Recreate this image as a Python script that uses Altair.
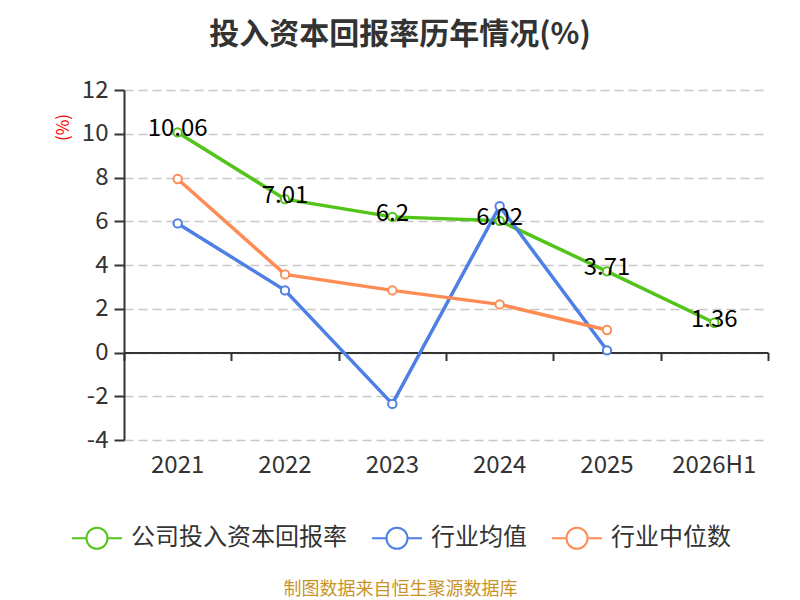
import altair as alt
import pandas as pd

years = ["2021", "2022", "2023", "2024", "2025", "2026H1"]
company = [10.06, 7.01, 6.2, 6.02, 3.71, 1.36]
ind_avg = [5.9, 2.84, -2.35, 6.69, 0.1, None]
ind_median = [7.93, 3.57, 2.84, 2.2, 1.03, None]

series_names = ["公司投入资本回报率", "行业均值", "行业中位数"]
series_colors = ["#52c41a", "#4d7fe5", "#ff8c55"]

rows = []
for name, vals in zip(series_names, [company, ind_avg, ind_median]):
    for y, v in zip(years, vals):
        if v is not None:
            rows.append({"year": y, "value": v, "series": name})
df = pd.DataFrame(rows)

FONT = "Noto Sans CJK SC"

band = alt.Scale(type="band", domain=years, paddingInner=0, paddingOuter=0)

x_lab = alt.X(
    "year:N", sort=years, scale=band,
    axis=alt.Axis(
        orient="bottom", domain=False, ticks=False, grid=False, labelAngle=0,
        labelFontSize=24, labelColor="#333333", labelPadding=13, labelFont=FONT,
        title="制图数据来自恒生聚源数据库", titleColor="#c89428", titleFontSize=18,
        titleFontWeight="normal", titleFont=FONT, titleX=276, titleY=140,
        titleAnchor="middle",
    ),
)
x_zero = alt.X(
    "year:N", sort=years, scale=band,
    axis=alt.Axis(
        orient="bottom", labels=False, grid=False, title=None, domain=True,
        domainColor="#333333", domainWidth=2, ticks=True, tickColor="#333333",
        tickWidth=2, tickSize=8, tickBand="extent", offset=-87.5,
    ),
)
y_enc = alt.Y(
    "value:Q",
    scale=alt.Scale(domain=[-4, 12], nice=False, zero=False),
    axis=alt.Axis(
        values=list(range(-4, 13, 2)), labelExpr="'' + datum.value",
        grid=True, gridDash=[9, 5], gridColor="#c8c8c8",
        gridWidth=1.5, domainColor="#333333", domainWidth=2, tickColor="#333333",
        tickWidth=2, tickSize=10, labelFontSize=24, labelColor="#333333",
        labelPadding=6, labelFont=FONT,
        title="(%)", titleColor="red", titleFontSize=17, titleFontWeight="normal",
        titleFont=FONT, titleX=-52, titleY=37, titleAngle=270, titleAlign="center",
        titleBaseline="bottom",
    ),
)
color_enc = alt.Color(
    "series:N",
    scale=alt.Scale(domain=series_names, range=series_colors),
    legend=alt.Legend(
        title=None, orient="none", direction="horizontal", legendX=-53, legendY=422,
        labelFontSize=24, labelColor="#333333", labelFont=FONT, labelOffset=8,
        labelLimit=500, columnPadding=21,
        symbolType="M-1,0H-0.42M0.42,0H1M0.42,0A0.42,0.42,0,1,1,-0.42,0A0.42,0.42,0,1,1,0.42,0Z",
        symbolSize=2500, symbolStrokeWidth=2, symbolFillColor="white",
    ),
)

lines = alt.Chart(df).mark_line(strokeWidth=3.5).encode(
    x=x_lab, y=y_enc, color=color_enc
)
zero_axis = alt.Chart(df).mark_point(opacity=0).encode(
    x=x_zero, y=alt.Y("value:Q")
)
points = alt.Chart(df).mark_point(
    filled=False, fill="white", fillOpacity=1, size=70, strokeWidth=2, opacity=1
).encode(
    x=alt.X("year:N", sort=years, axis=None),
    y=alt.Y("value:Q"),
    color=alt.Color("series:N", legend=None),
)
labels = alt.Chart(df[df["series"] == series_names[0]]).mark_text(
    fontSize=24, color="#000000", dy=-3, baseline="middle", font=FONT
).encode(
    x=alt.X("year:N", sort=years, axis=None),
    y=alt.Y("value:Q"),
    text=alt.Text("value:Q"),
)

chart = alt.layer(lines, zero_axis, points, labels).resolve_axis(
    x="independent"
).properties(
    width=644, height=350,
    background="white",
    autosize=alt.AutoSizeParams(type="none"),
    padding={"left": 116, "top": 82, "right": 24, "bottom": 160},
    title=alt.TitleParams(
        "投入资本回报率历年情况(%)", fontSize=30, fontWeight="bold", color="#333333",
        font=FONT, anchor="middle", frame="group", dx=-46, offset=28,
    ),
).configure_view(stroke=None, strokeWidth=0)

chart.save("out.html", embed_options={"renderer": "svg", "actions": False})
